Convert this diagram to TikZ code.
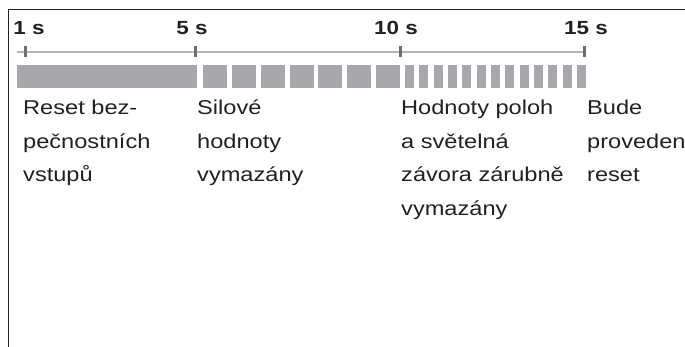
\documentclass[tikz,border=0pt]{standalone}
\usepackage{fontspec}
\setmainfont{Liberation Sans}[FakeStretch=1.18]
\usepackage{tikz}
\usetikzlibrary{positioning, calc}
\definecolor{TextDark}{rgb}{0.14, 0.12, 0.13}
\definecolor{BarGray}{rgb}{0.65, 0.66, 0.67}
\definecolor{AxisGray}{rgb}{0.71, 0.71, 0.71}
\definecolor{TickGray}{rgb}{0.43, 0.43, 0.44}

\begin{document}
\begin{tikzpicture}[
    x=1pt, y=-1pt,
    font=\fontsize{20}{33.5}\selectfont,
    frame/.style={line width=1.3pt, draw=TextDark},
    axis/.style={line width=1.2pt, draw=AxisGray},
    tickmark/.style={line width=3pt, draw=TickGray},
    ticklbl/.style={font=\fontsize{19}{22}\selectfont\bfseries, text=TextDark,
        inner sep=0pt, anchor=base},
    seg/.style={fill=BarGray, draw=none},
    lbl/.style={text=TextDark, align=left, inner sep=0pt, anchor=base west},
]
\useasboundingbox (0,0) rectangle (685,347);

% ramecek (jen horni a leva hrana)
\draw[frame] (685,9.5) -- (8.5,9.5) -- (8.5,347);

% ================= casova osa =================
\coordinate (a0)  at (17,52);
\coordinate (t1)  at (25,52);
\coordinate (t5)  at (195,52);
\coordinate (t10) at (400,52);
\coordinate (t15) at (584,52);
\draw[axis] (a0) -- (t15);
\foreach \t in {t1, t5, t10, t15}
    \draw[tickmark] ([yshift=5.5pt]\t) -- ([yshift=-5.5pt]\t);

\node[ticklbl] (l1)  at (29,35)  {1 s};
\node[ticklbl] (l5)  at (192,35) {5 s};
\node[ticklbl] (l10) at (396,35) {10 s};
\node[ticklbl] (l15) at (586,35) {15 s};

% ================= pruh: plny / prerusovany / husty =================
\fill[seg] (17,65) rectangle (196.5,88);
\foreach \i in {0,...,6}
    \fill[seg] ({203+28.85*\i},65) rectangle ++(24,23);
\foreach \i in {0,...,12}
    \fill[seg] ({405+14.33*\i},65) rectangle ++(9,23);

% ================= popisy (base = posledni radek) =================
\node[lbl] (d1)  at (23,182)    {Reset bez-\\pečnostních\\vstupů};
\node[lbl] (d5)  at (197,182)   {Silové\\hodnoty\\vymazány};
\node[lbl] (d10) at (401,215.5) {Hodnoty poloh\\a světelná\\závora zárubně\\vymazány};
\node[lbl] (d15) at (587,182)   {Bude\\proveden\\reset};

\end{tikzpicture}
\end{document}
